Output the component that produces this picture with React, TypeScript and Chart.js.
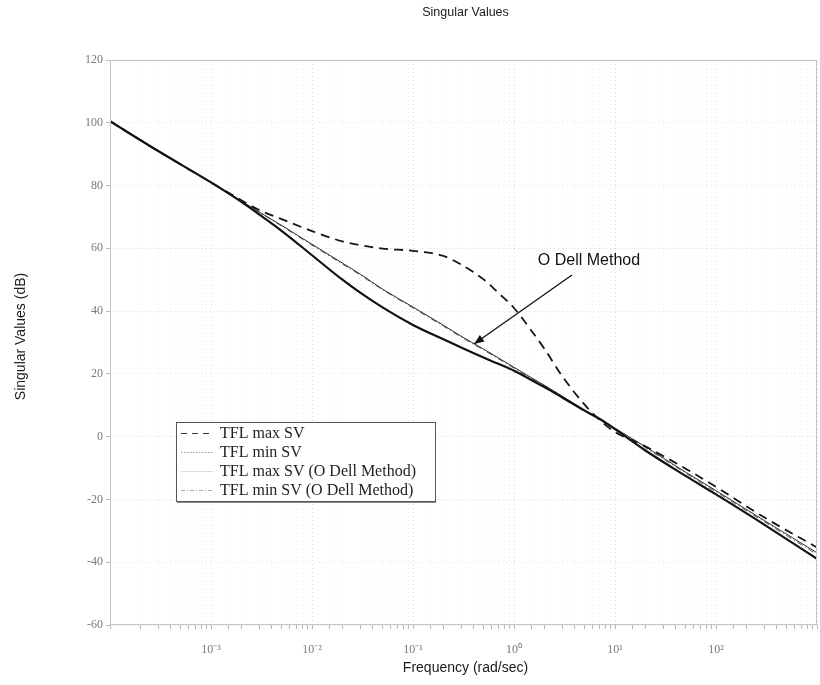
import { useEffect, useRef } from 'react';
import { Chart, registerables } from 'chart.js';

Chart.register(...registerables);

// Frequency samples (rad/sec)
const frequencies = [1e-4, 3e-4, 1e-3, 2e-3, 3e-3, 5e-3, 0.01, 0.02, 0.03, 0.05, 0.1, 0.2, 0.3, 0.5, 0.7, 1, 1.5, 2, 3, 5, 7, 10, 20, 50, 100, 300, 1000];

// Singular values (dB)
const tflMaxSV = [100.5, 91, 81, 75.3, 72.2, 69.3, 65.5, 62.2, 61.0, 59.9, 59.2, 57.6, 54.8, 50.1, 45.8, 41.0, 33.6, 28.0, 19.3, 10.2, 5.4, 1.5, -3.1, -10.2, -16.0, -25.7, -35.3];
const tflMinSV = [100.5, 91, 81, 74.8, 70.8, 65.6, 57.8, 50.0, 45.9, 41.2, 35.6, 31.0, 28.4, 25.2, 23.2, 21.0, 18.0, 15.8, 12.5, 8.3, 5.7, 2.4, -4.4, -12.5, -18.4, -28.0, -38.9];
const odellMaxSV = [100.5, 91, 81, 75.0, 71.6, 67.3, 61.3, 55.3, 51.8, 47.0, 41.3, 35.5, 32.0, 27.9, 25.1, 22.1, 18.7, 16.4, 12.9, 8.5, 5.8, 2.7, -3.2, -11.3, -17.2, -26.7, -37.0];
const odellMinSV = [100.5, 91, 81, 74.9, 71.5, 67.1, 61.0, 55.0, 51.5, 46.8, 41.0, 35.2, 31.7, 27.6, 24.8, 21.8, 18.4, 16.1, 12.6, 8.3, 5.6, 2.5, -3.5, -11.6, -17.6, -27.1, -37.5];

const seriesNames = ['TFL max SV', 'TFL min SV', 'TFL max SV (O Dell Method)', 'TFL min SV (O Dell Method)'];

// Axis ticks
const yMin = -60;
const yMax = 120;
const yStep = 20;
const xMin = 1e-4;
const xMax = 1e3;
const xTickExponents = [-3, -2, -1, 0, 1, 2];
const xTickLabels = ['10⁻³', '10⁻²', '10⁻¹', '10⁰', '10¹', '10²'];

const chartTitle = 'Singular Values';
const xTitle = 'Frequency (rad/sec)';
const yTitle = 'Singular Values (dB)';
const annotationText = 'O Dell Method';

export default function App() {
  const ref = useRef<HTMLCanvasElement>(null);

  useEffect(() => {
    const canvas = ref.current;
    if (!canvas) return;
    const mk = (arr: number[]) => frequencies.map((f, i) => ({ x: f, y: arr[i] }));
    const logOf = (v: number) => Math.log10(v);
    const decadeIndex = (v: number) => {
      const l = logOf(v);
      const r = Math.round(l);
      if (Math.abs(l - r) > 1e-6) return -1;
      return xTickExponents.indexOf(r);
    };
    const isDecade = (v: number) => {
      const l = logOf(v);
      return Math.abs(l - Math.round(l)) < 1e-6;
    };

    const overlay = {
      id: 'overlay',
      afterDraw(chart: any) {
        const c = chart.ctx as CanvasRenderingContext2D;
        const a = chart.chartArea;
        c.save();
        // frame
        c.strokeStyle = '#c4c4c4';
        c.lineWidth = 1;
        c.setLineDash([]);
        c.strokeRect(a.left + 0.5, a.top + 0.5, a.right - a.left - 1, a.bottom - a.top - 1);

        const cx = (a.left + a.right) / 2;
        const cy = (a.top + a.bottom) / 2;
        c.fillStyle = '#1a1a1a';
        c.textAlign = 'center';
        c.textBaseline = 'middle';
        c.font = '12.5px "Liberation Sans", Arial, sans-serif';
        c.fillText(chartTitle, cx + 2, 13);
        c.font = '14px "Liberation Sans", Arial, sans-serif';
        c.fillText(xTitle, cx + 2, 668);
        c.save();
        c.translate(21, cy - 6);
        c.rotate(-Math.PI / 2);
        c.fillText(yTitle, 0, 0);
        c.restore();

        // legend box
        const lx = 176, ly = 422, lw = 259, lh = 79;
        c.fillStyle = '#ffffff';
        c.fillRect(lx, ly, lw, lh);
        c.strokeStyle = '#555';
        c.lineWidth = 1;
        c.strokeRect(lx + 0.5, ly + 0.5, lw, lh);
        c.strokeStyle = '#888';
        c.beginPath();
        c.moveTo(lx + 1, ly + lh + 1.5);
        c.lineTo(lx + lw + 1, ly + lh + 1.5);
        c.stroke();
        const rows = [433, 452, 471, 490];
        const sampleStyles = [
          { color: '#333', dash: [6, 5], width: 1.2 },
          { color: '#999', dash: [1.5, 1.5], width: 1 },
          { color: '#dcdcdc', dash: [], width: 1 },
          { color: '#aaa', dash: [4, 2, 1, 2], width: 1 },
        ];
        c.font = '16px "Liberation Serif", "Times New Roman", serif';
        c.textAlign = 'left';
        rows.forEach((ry, i) => {
          const s = sampleStyles[i];
          c.strokeStyle = s.color;
          c.lineWidth = s.width;
          c.setLineDash(s.dash);
          c.beginPath();
          c.moveTo(181, ry + 0.5);
          c.lineTo(213, ry + 0.5);
          c.stroke();
          c.setLineDash([]);
          c.fillStyle = '#222';
          c.fillText(seriesNames[i], 220, ry + 1);
        });

        // annotation
        c.fillStyle = '#111';
        c.textAlign = 'center';
        c.font = '16px "Liberation Sans", Arial, sans-serif';
        c.fillText(annotationText, 589, 261);
        const x0 = 572, y0 = 275, x1 = 474, y1 = 344;
        c.strokeStyle = '#111';
        c.lineWidth = 1.3;
        c.beginPath();
        c.moveTo(x0, y0);
        c.lineTo(x1, y1);
        c.stroke();
        const ang = Math.atan2(y1 - y0, x1 - x0);
        const L = 10, W = 4;
        c.beginPath();
        c.moveTo(x1, y1);
        c.lineTo(x1 - L * Math.cos(ang) + W * Math.sin(ang), y1 - L * Math.sin(ang) - W * Math.cos(ang));
        c.lineTo(x1 - L * Math.cos(ang) - W * Math.sin(ang), y1 - L * Math.sin(ang) + W * Math.cos(ang));
        c.closePath();
        c.fill();
        c.restore();
      },
    };

    const chart = new Chart(canvas, {
      type: 'line',
      data: {
        datasets: [
          { label: seriesNames[0], data: mk(tflMaxSV), borderColor: '#151515', borderWidth: 1.8, borderDash: [9, 6], pointRadius: 0, cubicInterpolationMode: 'monotone' },
          { label: seriesNames[1], data: mk(tflMinSV), borderColor: '#111', borderWidth: 2.2, pointRadius: 0, cubicInterpolationMode: 'monotone' },
          { label: seriesNames[2], data: mk(odellMaxSV), borderColor: '#2a2a2a', borderWidth: 1, pointRadius: 0, cubicInterpolationMode: 'monotone' },
          { label: seriesNames[3], data: mk(odellMinSV), borderColor: '#555', borderWidth: 1, borderDash: [6, 3, 1, 3], pointRadius: 0, cubicInterpolationMode: 'monotone' },
        ],
      } as any,
      options: {
        responsive: false,
        animation: false,
        layout: { padding: { left: 0, top: 60, right: 3, bottom: 0 } },
        plugins: { legend: { display: false }, tooltip: { enabled: false }, title: { display: false } },
        scales: {
          x: {
            type: 'logarithmic',
            min: xMin,
            max: xMax,
            afterFit: (s: any) => { s.height = 60; s.paddingLeft = 0; s.paddingRight = 0; },
            grid: {
              color: (ctx: any) => (ctx.tick && isDecade(ctx.tick.value) ? 'rgba(0,0,0,0.16)' : 'rgba(0,0,0,0.07)'),
              tickLength: 4,
              tickColor: '#bbb',
            },
            border: { display: false, dash: [1, 3] },
            ticks: {
              autoSkip: false,
              maxRotation: 0,
              padding: 14,
              color: '#7a7a7a',
              font: { family: '"Liberation Serif", "Times New Roman", serif', size: 12 },
              callback: (v: any) => {
                const idx = decadeIndex(Number(v));
                return idx >= 0 ? xTickLabels[idx] : '';
              },
            },
          },
          y: {
            type: 'linear',
            min: yMin,
            max: yMax,
            afterFit: (s: any) => { s.width = 110; s.paddingTop = 0; s.paddingBottom = 0; },
            grid: { color: 'rgba(0,0,0,0.13)', tickLength: 4, tickColor: '#bbb' },
            border: { display: false, dash: [1, 3] },
            ticks: {
              stepSize: yStep,
              padding: 3,
              color: '#7a7a7a',
              font: { family: '"Liberation Serif", "Times New Roman", serif', size: 12 },
            },
          },
        },
      } as any,
      plugins: [overlay],
    });
    return () => chart.destroy();
  }, []);

  return (
    <div style={{ position: 'fixed', left: 0, top: 0, width: 820, height: 685, background: '#ffffff' }}>
      <canvas ref={ref} width={820} height={685} style={{ display: 'block' }} />
    </div>
  );
}
